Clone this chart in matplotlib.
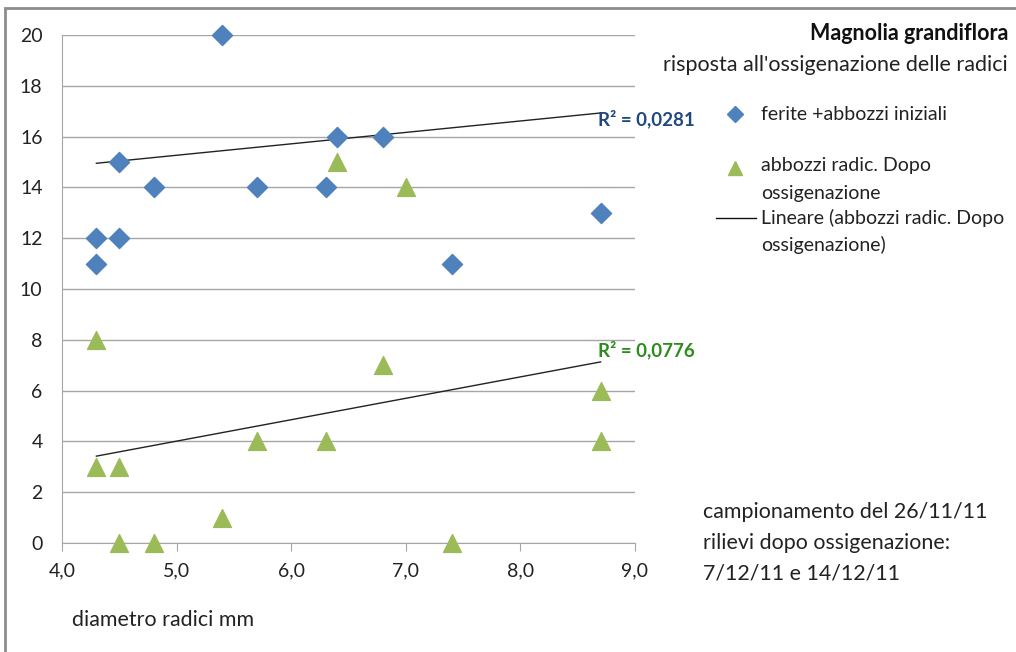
import matplotlib
matplotlib.use('Agg')
import matplotlib.pyplot as plt
from matplotlib.patches import Rectangle
from matplotlib.lines import Line2D

plt.rcParams['font.family'] = ['Lato', 'DejaVu Sans']

# diametro radici (mm) and counts
x_ferite = [4.3, 4.3, 4.5, 4.5, 4.8, 5.4, 5.7, 6.3, 6.4, 6.8, 7.4, 8.7]
y_ferite = [12, 11, 15, 12, 14, 20, 14, 14, 16, 16, 11, 13]

x_abbozzi = [4.3, 4.3, 4.5, 4.5, 4.8, 5.4, 5.7, 6.3, 6.4, 6.8, 7.0, 7.4, 8.7, 8.7]
y_abbozzi = [8, 3, 3, 0, 0, 1, 4, 4, 15, 7, 14, 0, 6, 4]

# trend lines (endpoints as drawn in the reference)
trend_x = [4.3, 8.7]
trend_top = [14.95, 16.93]
trend_bottom = [3.42, 7.13]

r2_top = 'R² = 0,0281'
r2_bottom = 'R² = 0,0776'

x_ticks = [4.0, 5.0, 6.0, 7.0, 8.0, 9.0]
y_ticks = [0, 2, 4, 6, 8, 10, 12, 14, 16, 18, 20]

blue = '#4F81BD'
green = '#9BBB59'
grid_gray = '#A6A6A6'
txt = '#222222'

fig = plt.figure(figsize=(10.16, 6.52), dpi=100)
# outer chart border (right/bottom cut off as in the reference)
fig.patches.append(Rectangle((5 / 1016, -0.1), 1.2, 1.1 - 8 / 652, transform=fig.transFigure,
                             fill=False, edgecolor='#8C8C8C', linewidth=2))

ax = fig.add_axes([62 / 1016, 1 - 543 / 652, (635 - 62) / 1016, (543 - 35) / 652])
ax.set_xlim(4.0, 9.0)
ax.set_ylim(0, 20)

for v in y_ticks:
    ax.axhline(v, color=grid_gray, linewidth=1, zorder=1)

ax.scatter(x_ferite, y_ferite, marker='D', s=105, color=blue, zorder=3, clip_on=False)
ax.scatter(x_abbozzi, y_abbozzi, marker='^', s=165, color=green, zorder=3, clip_on=False)
ax.plot(trend_x, trend_top, color='#222222', linewidth=1, zorder=2)
ax.plot(trend_x, trend_bottom, color='#222222', linewidth=1, zorder=2)

ax.text(trend_x[1] - 0.02, trend_top[1] + 0.12, r2_top, color='#1F497D', fontsize=13.5,
        fontweight='bold', va='top', ha='left')
ax.text(trend_x[1] - 0.02, trend_bottom[1] + 0.1, r2_bottom, color='#2E8B1E', fontsize=13.5,
        fontweight='bold', va='bottom', ha='left')

ax.set_xticks(x_ticks)
ax.set_xticklabels([f'{t:.1f}'.replace('.', ',') for t in x_ticks])
ax.set_yticks(y_ticks)
for lab in ax.get_xticklabels() + ax.get_yticklabels():
    lab.set_fontsize(14)
    lab.set_color(txt)
ax.tick_params(axis='x', direction='out', length=6, color=grid_gray, pad=8)
ax.tick_params(axis='y', length=0, pad=14)
for side in ['top', 'right']:
    ax.spines[side].set_visible(False)
ax.spines['left'].set_color(grid_gray)
ax.spines['bottom'].set_color(grid_gray)

# titles
fig.text(1008 / 1016, 1 - 33 / 652, 'Magnolia grandiflora', ha='right', va='center',
         fontsize=15.5, fontweight='bold', color='#111111')
fig.text(1008 / 1016, 1 - 65 / 652, "risposta all'ossigenazione delle radici", ha='right',
         va='center', fontsize=15.5, color=txt)

# legend built by hand to match the layout
fig.add_artist(Line2D([735 / 1016], [1 - 114 / 652], marker='D', markersize=8, color=blue,
                      linestyle='none', transform=fig.transFigure))
fig.add_artist(Line2D([735 / 1016], [1 - 168 / 652], marker='^', markersize=10, color=green,
                      linestyle='none', transform=fig.transFigure))
fig.add_artist(Line2D([716 / 1016, 756 / 1016], [1 - 218 / 652, 1 - 218 / 652], color='#111111',
                      linewidth=1, transform=fig.transFigure))
leg_fs = 14
fig.text(761 / 1016, 1 - 114 / 652, 'ferite +abbozzi iniziali', va='center', fontsize=leg_fs, color=txt)
fig.text(761 / 1016, 1 - 166 / 652, 'abbozzi radic. Dopo', va='center', fontsize=leg_fs, color=txt)
fig.text(761 / 1016, 1 - 193 / 652, 'ossigenazione', va='center', fontsize=leg_fs, color=txt)
fig.text(761 / 1016, 1 - 218 / 652, 'Lineare (abbozzi radic. Dopo', va='center', fontsize=leg_fs, color=txt)
fig.text(761 / 1016, 1 - 245 / 652, 'ossigenazione)', va='center', fontsize=leg_fs, color=txt)

# notes
note_fs = 15.4
fig.text(703 / 1016, 1 - 512 / 652, 'campionamento del 26/11/11', va='center', fontsize=note_fs, color=txt)
fig.text(703 / 1016, 1 - 543 / 652, 'rilievi dopo ossigenazione:', va='center', fontsize=note_fs, color=txt)
fig.text(703 / 1016, 1 - 574 / 652, '7/12/11 e 14/12/11', va='center', fontsize=note_fs, color=txt)
fig.text(72 / 1016, 1 - 620 / 652, 'diametro radici mm', va='center', fontsize=15.4, color=txt)

fig.savefig('out.png', dpi=100)
